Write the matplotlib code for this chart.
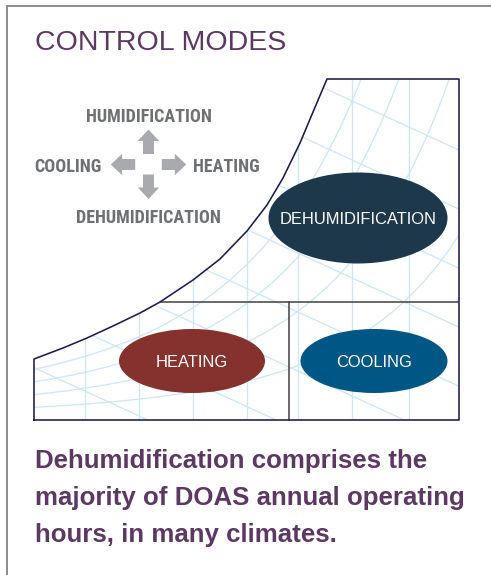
import numpy as np
import matplotlib
matplotlib.use("Agg")
import matplotlib.pyplot as plt
from matplotlib.patches import Ellipse, Polygon
from matplotlib import font_manager

# ---------------- content / values ----------------
TITLE = "CONTROL MODES"
CAPTION_LINES = ["Dehumidification comprises the",
                 "majority of DOAS annual operating",
                 "hours, in many climates."]

# compass (direction legend): up, right, down, left
COMPASS_LABELS = ["HUMIDIFICATION", "HEATING", "DEHUMIDIFICATION", "COOLING"]
COMPASS_DX = [0, 1, 0, -1]
COMPASS_DY = [-1, 0, 1, 0]
COMPASS_LABEL_X = [148.5, 226.5, 148.0, 68.0]
COMPASS_LABEL_Y = [122.3, 171.7, 223.3, 171.7]
ARROW_START = [10.5, 13.3, 10.0, 13.3]

# operating-mode zones
MODE_LABELS = ["DEHUMIDIFICATION", "HEATING", "COOLING"]
MODE_COLORS = ["#1d374b", "#85322e", "#005685"]
MODE_CX = [358, 192, 374]
MODE_CY = [218, 361, 361]
MODE_W = [179, 146, 147]
MODE_H = [91, 64, 64]

# psychrometric chart outline (saturation curve points)
SAT_X = [34, 63, 87, 113, 140, 160, 193, 220, 247, 267, 283, 300, 313, 327]
SAT_Y = [359, 348, 338, 326, 313, 302, 280, 259, 231, 205, 178, 143, 112, 79]
CHART_RIGHT = 459
CHART_TOP = 79
CHART_BOTTOM = 420
DIVIDE_Y = 302
DIVIDE_X = 289

# faint chart grid
DRY_BULB_X = [85, 139, 193, 247, 298, 352, 409]
RH_FRACTIONS = [0.2, 0.4, 0.6, 0.8]
WET_BULB_OFFSETS = [-61, -2, 57, 116, 175, 234, 293, 352]
WET_BULB_SLOPE = 0.46

# ---------------- fonts ----------------
avail = {f.name for f in font_manager.fontManager.ttflist}
def pick(*names):
    for n in names:
        if n in avail:
            return n
    return "DejaVu Sans"
SANS = pick("Liberation Sans", "Arial", "DejaVu Sans")
NARROW = pick("Liberation Sans Narrow", "Roboto Condensed", "Liberation Sans")

PURPLE = "#5c3863"
GRID = "#cbe7f8"
NAVY = "#1c1b50"

# ---------------- figure ----------------
W, H = 491, 575
fig = plt.figure(figsize=(W / 100, H / 100), dpi=100)
ax = fig.add_axes([0, 0, 1, 1])
ax.set_xlim(0, W)
ax.set_ylim(H, 0)
ax.axis("off")
PX = 0.72  # points per pixel

# panel border
ax.plot([7, 7, W + 5], [H + 5, 6, 6], color="#8e8e8e", lw=2 * PX,
        solid_joinstyle="miter", clip_on=False)

# title
ax.text(35, 50, TITLE, fontsize=20.5, color=PURPLE, family=SANS,
        ha="left", va="baseline")

# chart boundary polygon
bx = [SAT_X[0]] + list(SAT_X) + [CHART_RIGHT, CHART_RIGHT, SAT_X[0]]
by = [CHART_BOTTOM] + list(SAT_Y) + [CHART_TOP, CHART_BOTTOM, CHART_BOTTOM]
clip = Polygon(np.column_stack([bx, by]), closed=True, fc="none", ec="none",
               transform=ax.transData)
ax.add_patch(clip)

# saturation model for grid curves (fit of the outline points)
sx = np.array(SAT_X, float)
sh = CHART_BOTTOM - np.array(SAT_Y, float)
coef = np.polyfit(sx, np.log(sh), 2)
xs = np.linspace(SAT_X[0], CHART_RIGHT, 300)
hs = np.exp(np.polyval(coef, xs))

grid_lines = []
for x in DRY_BULB_X:
    grid_lines += ax.plot([x, x], [CHART_BOTTOM, CHART_TOP - 10], color=GRID, lw=1.3 * PX)
for r in RH_FRACTIONS:
    grid_lines += ax.plot(xs, CHART_BOTTOM - r * hs, color=GRID, lw=1.3 * PX)
for c in WET_BULB_OFFSETS:
    gx = np.array([0, W])
    grid_lines += ax.plot(gx, c + WET_BULB_SLOPE * gx, color=GRID, lw=1.3 * PX)
for ln in grid_lines:
    ln.set_clip_path(clip)
    ln.set_zorder(1)

# zone dividers
dl1, = ax.plot([SAT_X[0], CHART_RIGHT], [DIVIDE_Y, DIVIDE_Y], color="#3d3d3d",
               lw=1.5 * PX, zorder=2)
dl1.set_clip_path(clip)
ax.plot([DIVIDE_X, DIVIDE_X], [DIVIDE_Y, CHART_BOTTOM], color="#3d3d3d",
        lw=1.5 * PX, zorder=2)

# outline
ax.plot(bx, by, color=NAVY, lw=1.6 * PX, solid_joinstyle="round", zorder=2.5)

# mode ellipses
for lab, col, cx, cy, ew, eh in zip(MODE_LABELS, MODE_COLORS, MODE_CX, MODE_CY, MODE_W, MODE_H):
    ax.add_patch(Ellipse((cx, cy), ew, eh, fc=col, ec="none", zorder=3))
    ax.text(cx, cy + 5.8, lab, fontsize=11.9, color="white", family=SANS,
            ha="center", va="baseline", zorder=4)

# compass arrows and labels
ACX, ACY = 148.5, 164.5
for dx, dy, st in zip(COMPASS_DX, COMPASS_DY, ARROW_START):
    ax.arrow(ACX + dx * st, ACY + dy * st, dx * 24.5, dy * 24.5, width=11,
             head_width=21.5, head_length=11.5, length_includes_head=True,
             fc="#a8aaad", ec="none")
for lab, lx, ly in zip(COMPASS_LABELS, COMPASS_LABEL_X, COMPASS_LABEL_Y):
    ax.text(lx, ly, lab, fontsize=13, color="#6f7073", family=NARROW,
            weight="bold", ha="center", va="baseline")

# caption
for i, line in enumerate(CAPTION_LINES):
    ax.text(35, 468.3 + i * 36.8, line, fontsize=18.6, color=PURPLE,
            family=SANS, weight="bold", ha="left", va="baseline")

fig.savefig("out.png", dpi=100)
